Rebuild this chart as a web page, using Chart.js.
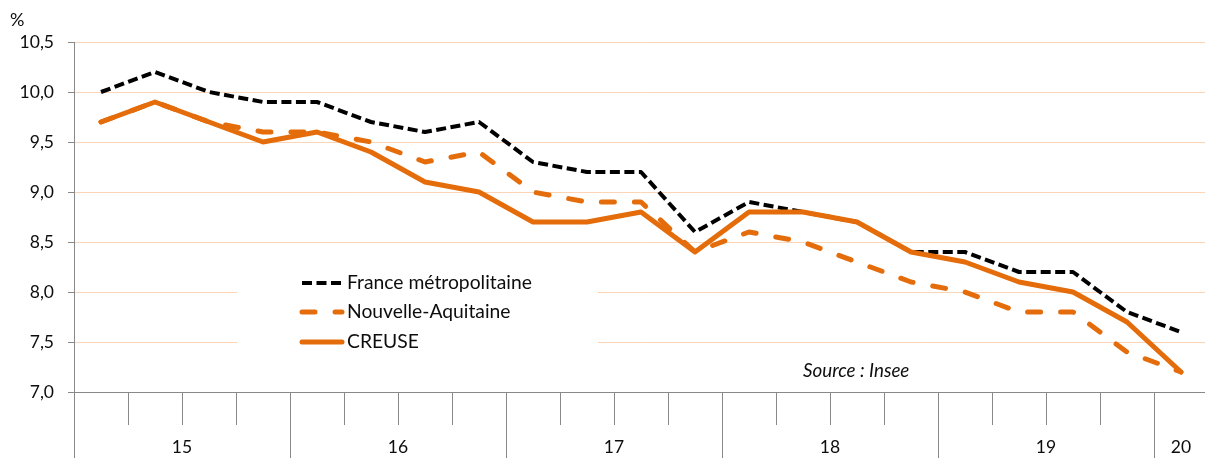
<!DOCTYPE html>
<html><head><meta charset="utf-8">
<script src="https://cdn.jsdelivr.net/npm/chart.js@4"></script>
<style>
html,body{margin:0;padding:0;overflow:hidden;background:#fff}
#wrap{width:1209px;height:458px;position:relative}
</style>
</head><body><div id="wrap"><canvas id="c" width="1209" height="458"></canvas></div>
<script>
// ---- data ----
const quarters = ['2015-T1','2015-T2','2015-T3','2015-T4',
                  '2016-T1','2016-T2','2016-T3','2016-T4',
                  '2017-T1','2017-T2','2017-T3','2017-T4',
                  '2018-T1','2018-T2','2018-T3','2018-T4',
                  '2019-T1','2019-T2','2019-T3','2019-T4',
                  '2020-T1'];
const france = [10.0,10.2,10.0,9.9,9.9,9.7,9.6,9.7,9.3,9.2,9.2,8.6,8.9,8.8,8.7,8.4,8.4,8.2,8.2,7.8,7.6];
const nouvelleAquitaine = [9.7,9.9,9.7,9.6,9.6,9.5,9.3,9.4,9.0,8.9,8.9,8.4,8.6,8.5,8.3,8.1,8.0,7.8,7.8,7.4,7.2];
const creuse = [9.7,9.9,9.7,9.5,9.6,9.4,9.1,9.0,8.7,8.7,8.8,8.4,8.8,8.8,8.7,8.4,8.3,8.1,8.0,7.7,7.2];
const seriesNames = ['France métropolitaine','Nouvelle-Aquitaine','CREUSE'];
const yMin = 7.0, yMax = 10.5, yStep = 0.5;
const unitLabel = '%';
const sourceText = 'Source : Insee';

// ---- styles ----
const ORANGE = '#E46C0A';
const GRID = '#FBD5B5';
const AXIS = '#898989';
const TEXT = '#0d0d0d';
const FONT = 'Lato';

// year groups derived from quarter labels
const yearGroups = [];
quarters.forEach((q, i) => {
  const y = q.slice(2, 4);
  const g = yearGroups[yearGroups.length - 1];
  if (g && g.label === y) g.end = i; else yearGroups.push({label: y, start: i, end: i});
});

const decor = {
  id: 'decor',
  beforeDatasetsDraw(chart) {
    const ctx = chart.ctx;
    ctx.save();
    ctx.fillStyle = '#fff';
    ctx.fillRect(237, 262, 361, 98);
    ctx.restore();
  },
  afterDraw(chart) {
    const ctx = chart.ctx;
    const xs = chart.scales.x;
    const area = chart.chartArea;
    const half = (xs.getPixelForValue(1) - xs.getPixelForValue(0)) / 2;
    ctx.save();
    // long ticks at year boundaries + axis extension
    ctx.strokeStyle = AXIS;
    ctx.lineWidth = 1;
    yearGroups.forEach(g => {
      const x = Math.round(xs.getPixelForValue(g.start) - half) + 0.5;
      ctx.beginPath();
      ctx.moveTo(x, area.bottom);
      ctx.lineTo(x, chart.height);
      ctx.stroke();
    });
    // year labels
    ctx.fillStyle = TEXT;
    ctx.font = '17.5px ' + FONT;
    ctx.textAlign = 'center';
    ctx.textBaseline = 'middle';
    yearGroups.forEach(g => {
      const x = (xs.getPixelForValue(g.start) + xs.getPixelForValue(g.end)) / 2;
      ctx.fillText(g.label, x, 447);
    });
    // unit
    ctx.textAlign = 'left';
    ctx.font = '18px ' + FONT;
    ctx.fillText(unitLabel, 10, 20);
    // source
    ctx.font = 'italic 18.8px ' + FONT;
    ctx.fillText(sourceText, 803, 371);
    // legend
    const rows = [283, 312, 342];
    const order = [0, 1, 2];
    order.forEach((di, r) => {
      const ds = chart.data.datasets[di];
      const y = rows[r];
      ctx.save();
      ctx.strokeStyle = ds.borderColor;
      ctx.lineWidth = ds.borderWidth;
      ctx.lineCap = ds.borderCapStyle || 'butt';
      ctx.setLineDash(ds.borderDash || []);
      ctx.beginPath();
      ctx.moveTo(302, y);
      ctx.lineTo(342, y);
      ctx.stroke();
      ctx.restore();
      ctx.fillStyle = TEXT;
      ctx.font = '19.3px ' + FONT;
      ctx.textAlign = 'left';
      ctx.textBaseline = 'middle';
      ctx.fillText(ds.label, 347, y);
    });
    ctx.restore();
  }
};

new Chart(document.getElementById('c'), {
  type: 'line',
  data: {
    labels: quarters,
    datasets: [
      {label: seriesNames[0], data: france, borderColor: '#000', borderWidth: 4,
       borderDash: [10, 4.5], borderCapStyle: 'butt', order: 3},
      {label: seriesNames[1], data: nouvelleAquitaine, borderColor: ORANGE, borderWidth: 5,
       borderDash: [13, 20], borderCapStyle: 'round', order: 2},
      {label: seriesNames[2], data: creuse, borderColor: ORANGE, borderWidth: 5,
       borderCapStyle: 'round', order: 1}
    ]
  },
  options: {
    responsive: false,
    animation: false,
    devicePixelRatio: 1,
    layout: {padding: {top: 42, right: 1, left: 0, bottom: 0}},
    elements: {
      point: {radius: 0, hoverRadius: 0},
      line: {tension: 0, borderJoinStyle: 'round', fill: false}
    },
    plugins: {legend: {display: false}, tooltip: {enabled: false}},
    scales: {
      x: {
        type: 'category',
        offset: true,
        afterFit(s) { s.height = 66; },
        grid: {offset: true, drawOnChartArea: false, drawTicks: true, tickLength: 33,
               color: AXIS, tickColor: AXIS, lineWidth: 1},
        border: {display: true, color: AXIS, width: 1},
        ticks: {display: false}
      },
      y: {
        min: yMin, max: yMax,
        afterFit(s) { s.width = 74; },
        grid: {
          color: c => (c.tick && c.tick.value === yMin) ? AXIS : GRID,
          tickColor: AXIS, tickLength: 6, lineWidth: 1, drawTicks: true
        },
        border: {display: true, color: AXIS, width: 1},
        ticks: {
          stepSize: yStep, padding: 14, color: TEXT,
          font: {family: FONT, size: 17.5},
          callback: v => Number(v).toFixed(1).replace('.', ',')
        }
      }
    }
  },
  plugins: [decor]
});
</script>
</body></html>
